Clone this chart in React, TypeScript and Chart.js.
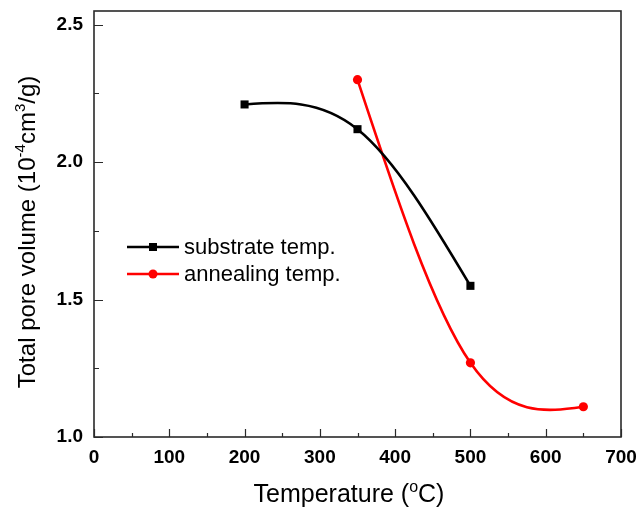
import React, { useEffect, useRef } from 'react';
import { Chart, registerables } from 'chart.js';

Chart.register(...registerables);

// Total pore volume (10^-4 cm^3/g) versus temperature (°C)
const substrateTemps = [200, 350, 500];
const substrateVolume = [2.21, 2.12, 1.55];
const annealingTemps = [350, 500, 650];
const annealingVolume = [2.3, 1.27, 1.11];
const seriesLabels = ['substrate temp.', 'annealing temp.'];
const seriesColors = ['#000000', '#ff0000'];

const xMajorTicks = [0, 100, 200, 300, 400, 500, 600, 700];
const xMinorTicks = [50, 150, 250, 350, 450, 550, 650];
const yMajorTicks = [1.0, 1.5, 2.0, 2.5];
const yMinorTicks = [1.25, 1.75, 2.25];

type Seg = { text: string; sup?: boolean };
const xTitle: Seg[] = [{ text: 'Temperature (' }, { text: 'o', sup: true }, { text: 'C)' }];
const yTitle: Seg[] = [
  { text: 'Total pore volume (10' },
  { text: '-4', sup: true },
  { text: 'cm' },
  { text: '3', sup: true },
  { text: '/g)' },
];

const FONT = '"Liberation Sans", Arial, sans-serif';

function drawRich(ctx: CanvasRenderingContext2D, segs: Seg[], size: number) {
  const supSize = Math.round(size * 0.62);
  const widths = segs.map((s) => {
    ctx.font = `${s.sup ? supSize : size}px ${FONT}`;
    return ctx.measureText(s.text).width;
  });
  const total = widths.reduce((a, b) => a + b, 0);
  let x = -total / 2;
  segs.forEach((s, i) => {
    ctx.font = `${s.sup ? supSize : size}px ${FONT}`;
    ctx.fillText(s.text, x, s.sup ? -size * 0.42 : 0);
    x += widths[i];
  });
}

// Natural cubic spline smoothing: sets the bezier control points of each
// point element so the library draws a C2-continuous curve through them.
const splinePlugin = {
  id: 'naturalSpline',
  beforeDatasetsDraw(chart: any) {
    chart.data.datasets.forEach((_: any, di: number) => {
      const meta = chart.getDatasetMeta(di);
      const pts = meta.data;
      const n = pts.length;
      if (n < 3) return;
      const xs = pts.map((p: any) => p.x);
      const ys = pts.map((p: any) => p.y);
      const h: number[] = [];
      for (let i = 0; i < n - 1; i++) h.push(xs[i + 1] - xs[i]);
      // solve tridiagonal system for second derivatives (natural ends)
      const M = new Array(n).fill(0);
      const a: number[] = new Array(n).fill(0);
      const b: number[] = new Array(n).fill(1);
      const c: number[] = new Array(n).fill(0);
      const r: number[] = new Array(n).fill(0);
      for (let i = 1; i < n - 1; i++) {
        a[i] = h[i - 1];
        b[i] = 2 * (h[i - 1] + h[i]);
        c[i] = h[i];
        r[i] = 6 * ((ys[i + 1] - ys[i]) / h[i] - (ys[i] - ys[i - 1]) / h[i - 1]);
      }
      for (let i = 1; i < n; i++) {
        const m = a[i] / b[i - 1];
        b[i] -= m * c[i - 1];
        r[i] -= m * r[i - 1];
      }
      M[n - 1] = r[n - 1] / b[n - 1];
      for (let i = n - 2; i >= 0; i--) M[i] = (r[i] - c[i] * M[i + 1]) / b[i];
      for (let i = 0; i < n - 1; i++) {
        const d = (ys[i + 1] - ys[i]) / h[i];
        const s0 = d - (h[i] * (2 * M[i] + M[i + 1])) / 6;
        const s1 = d + (h[i] * (M[i] + 2 * M[i + 1])) / 6;
        pts[i].cp2x = xs[i] + h[i] / 3;
        pts[i].cp2y = ys[i] + (s0 * h[i]) / 3;
        pts[i + 1].cp1x = xs[i + 1] - h[i] / 3;
        pts[i + 1].cp1y = ys[i + 1] - (s1 * h[i]) / 3;
      }
      pts[0].cp1x = xs[0];
      pts[0].cp1y = ys[0];
      pts[n - 1].cp2x = xs[n - 1];
      pts[n - 1].cp2y = ys[n - 1];
      if (meta.dataset) {
        meta.dataset._pointsUpdated = true;
        meta.dataset._path = undefined;
      }
    });
  },
};

const framePlugin = {
  id: 'frameAndTicks',
  afterDraw(chart: any) {
    const { ctx, chartArea: a, scales } = chart;
    const xs = scales.x;
    const ys = scales.y;
    ctx.save();
    ctx.strokeStyle = '#2a2a2a';
    ctx.lineWidth = 1.6;
    ctx.strokeRect(a.left, a.top, a.right - a.left, a.bottom - a.top);
    ctx.lineWidth = 1.2;
    ctx.beginPath();
    const xt = (v: number, len: number) => {
      const px = Math.round(xs.getPixelForValue(v)) + 0.5;
      ctx.moveTo(px, a.bottom);
      ctx.lineTo(px, a.bottom - len);
    };
    const yt = (v: number, len: number) => {
      const py = Math.round(ys.getPixelForValue(v)) + 0.5;
      ctx.moveTo(a.left, py);
      ctx.lineTo(a.left + len, py);
    };
    xMajorTicks.forEach((v) => xt(v, 8));
    xMinorTicks.forEach((v) => xt(v, 4));
    yMajorTicks.forEach((v) => yt(v, 9));
    yMinorTicks.forEach((v) => yt(v, 5));
    ctx.stroke();

    // axis titles
    ctx.fillStyle = '#000';
    ctx.textBaseline = 'alphabetic';
    ctx.textAlign = 'left';
    ctx.save();
    ctx.translate(349, 502);
    drawRich(ctx, xTitle, 25);
    ctx.restore();
    ctx.save();
    ctx.translate(35, 232);
    ctx.rotate(-Math.PI / 2);
    drawRich(ctx, yTitle, 24);
    ctx.restore();

    // legend
    chart.data.datasets.forEach((ds: any, i: number) => {
      const y = 247 + 27 * i;
      ctx.strokeStyle = ds.borderColor;
      ctx.lineWidth = 2.6;
      ctx.beginPath();
      ctx.moveTo(127, y);
      ctx.lineTo(179, y);
      ctx.stroke();
      ctx.fillStyle = ds.borderColor;
      ctx.beginPath();
      if (ds.pointStyle === 'rect') {
        ctx.rect(153 - 4, y - 4, 8, 8);
      } else {
        ctx.arc(153, y, 4.5, 0, Math.PI * 2);
      }
      ctx.fill();
      ctx.fillStyle = '#000';
      ctx.font = `22px ${FONT}`;
      ctx.fillText(ds.label, 184, y + 7);
    });
    ctx.restore();
  },
};

export default function App() {
  const canvasRef = useRef<HTMLCanvasElement | null>(null);

  useEffect(() => {
    if (!canvasRef.current) return;
    const chart = new Chart(canvasRef.current, {
      type: 'line',
      data: {
        datasets: [
          {
            label: seriesLabels[0],
            data: substrateTemps.map((x, i) => ({ x, y: substrateVolume[i] })),
            borderColor: seriesColors[0],
            backgroundColor: seriesColors[0],
            borderWidth: 2.6,
            pointStyle: 'rect',
            pointRadius: 5.7,
            pointBorderWidth: 0,
            tension: 0.4,
            fill: false,
          },
          {
            label: seriesLabels[1],
            data: annealingTemps.map((x, i) => ({ x, y: annealingVolume[i] })),
            borderColor: seriesColors[1],
            backgroundColor: seriesColors[1],
            borderWidth: 2.6,
            pointStyle: 'circle',
            pointRadius: 4.6,
            pointBorderWidth: 0,
            tension: 0.4,
            fill: false,
          },
        ],
      },
      options: {
        animation: false,
        responsive: true,
        maintainAspectRatio: false,
        devicePixelRatio: 1,
        layout: { padding: { top: 11, right: 20, left: 0, bottom: 0 } },
        plugins: {
          legend: { display: false },
          tooltip: { enabled: false },
          title: { display: false },
        },
        scales: {
          x: {
            type: 'linear',
            min: 0,
            max: 700,
            grid: { display: false, drawTicks: false },
            border: { display: false },
            ticks: {
              color: '#000',
              padding: 9,
              font: { family: FONT, size: 19, weight: 'bold' },
              maxRotation: 0,
            },
            afterBuildTicks: (s: any) => {
              s.ticks = xMajorTicks.map((v) => ({ value: v }));
            },
            afterFit: (s: any) => {
              s.height = 70;
              s.paddingLeft = 0;
              s.paddingRight = 0;
            },
          },
          y: {
            type: 'linear',
            min: 1.0,
            max: 2.55,
            grid: { display: false, drawTicks: false },
            border: { display: false },
            ticks: {
              color: '#000',
              padding: 11,
              font: { family: FONT, size: 19, weight: 'bold' },
              callback: (v: any) => Number(v).toFixed(1),
            },
            afterBuildTicks: (s: any) => {
              s.ticks = yMajorTicks.map((v) => ({ value: v }));
            },
            afterFit: (s: any) => {
              s.width = 94;
              s.paddingTop = 0;
              s.paddingBottom = 0;
            },
          },
        },
      } as any,
      plugins: [splinePlugin, framePlugin],
    });
    return () => chart.destroy();
  }, []);

  return (
    <div style={{ position: 'absolute', left: 0, top: 0, width: 641, height: 507, background: '#fff' }}>
      <canvas ref={canvasRef} />
    </div>
  );
}
